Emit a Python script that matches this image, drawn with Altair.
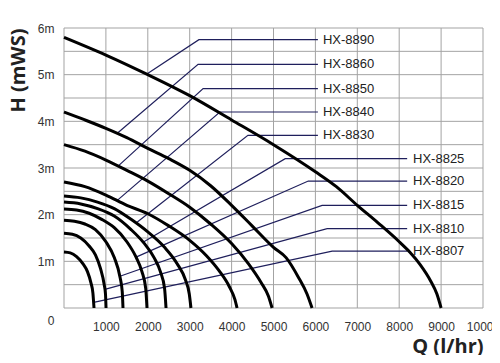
import altair as alt
import pandas as pd

# ---- pump curves (Q in l/hr, H in m) ----
q_8890 = [0, 1000, 2000, 3000, 4000, 5000, 6000, 6500, 7000, 7500, 8000, 8250, 8500, 8750, 8900, 9000]
h_8890 = [5.8, 5.42, 5.0, 4.55, 4.03, 3.5, 2.92, 2.6, 2.2, 1.82, 1.42, 1.2, 0.93, 0.58, 0.3, 0]
q_8860 = [0, 500, 1000, 1500, 2000, 2500, 3000, 3500, 4000, 4500, 5000, 5300, 5600, 5800, 5920]
h_8860 = [4.2, 4.03, 3.85, 3.65, 3.42, 3.2, 2.95, 2.62, 2.2, 1.75, 1.3, 1.08, 0.65, 0.3, 0]
q_8850 = [0, 500, 1000, 1500, 2000, 2500, 3000, 3500, 4000, 4400, 4700, 4880, 4965]
h_8850 = [3.5, 3.36, 3.17, 2.95, 2.72, 2.45, 2.16, 1.8, 1.38, 0.95, 0.55, 0.25, 0]
q_8840 = [0, 500, 1000, 1500, 2000, 2500, 3000, 3400, 3700, 3950, 4080, 4130]
h_8840 = [2.7, 2.6, 2.42, 2.2, 2.02, 1.76, 1.45, 1.12, 0.8, 0.45, 0.18, 0]
q_8830 = [0, 400, 800, 1200, 1600, 2000, 2400, 2700, 2900, 2990, 3030]
h_8830 = [2.4, 2.36, 2.27, 2.13, 1.9, 1.63, 1.3, 0.95, 0.6, 0.3, 0]
q_8825 = [0, 400, 800, 1200, 1600, 1900, 2150, 2300, 2400, 2435]
h_8825 = [2.27, 2.23, 2.13, 1.97, 1.68, 1.4, 1.08, 0.78, 0.42, 0]
q_8820 = [0, 300, 600, 900, 1200, 1500, 1720, 1860, 1950, 1981]
h_8820 = [2.12, 2.1, 2.03, 1.9, 1.72, 1.42, 1.09, 0.78, 0.42, 0]
q_8815 = [0, 250, 500, 750, 1000, 1200, 1340, 1390, 1408]
h_8815 = [1.88, 1.86, 1.8, 1.68, 1.42, 1.08, 0.65, 0.35, 0]
q_8810 = [0, 200, 400, 600, 750, 870, 960, 990, 1003]
h_8810 = [1.6, 1.58, 1.5, 1.33, 1.14, 0.85, 0.5, 0.3, 0]
q_8807 = [0, 150, 300, 450, 560, 640, 690, 716]
h_8807 = [1.2, 1.18, 1.1, 0.95, 0.78, 0.55, 0.32, 0]

models = ["HX-8890", "HX-8860", "HX-8850", "HX-8840", "HX-8830",
          "HX-8825", "HX-8820", "HX-8815", "HX-8810", "HX-8807"]
curve_q = [q_8890, q_8860, q_8850, q_8840, q_8830, q_8825, q_8820, q_8815, q_8810, q_8807]
curve_h = [h_8890, h_8860, h_8850, h_8840, h_8830, h_8825, h_8820, h_8815, h_8810, h_8807]

# ---- leader lines and labels ----
start_q = [2005, 1265, 1290, 1265, 1720, 1886, 1719, 1335, 975, 708]
start_h = [5.03, 3.74, 3.04, 2.30, 1.82, 1.41, 1.09, 0.68, 0.40, 0.12]
knee_q = [3220, 3200, 3320, 3720, 4390, 5280, 5830, 6160, 6280, 6400]
label_h = [5.75, 5.22, 4.7, 4.2, 3.7, 3.2, 2.72, 2.2, 1.7, 1.22]
end_q = [6060, 6060, 6060, 6060, 6060, 8190, 8190, 8190, 8190, 8190]
text_q = [6180, 6180, 6180, 6180, 6180, 8330, 8330, 8330, 8330, 8330]

x_ticks = [0, 1000, 2000, 3000, 4000, 5000, 6000, 7000, 8000, 9000, 10000]
y_ticks = [0, 0.5, 1, 1.5, 2, 2.5, 3, 3.5, 4, 4.5, 5, 5.5, 6]

rows = []
for m, qs, hs in zip(models, curve_q, curve_h):
    for q, h in zip(qs, hs):
        rows.append({"model": m, "Q": q, "H": h})
curves_df = pd.DataFrame(rows)

lrows = []
for i, m in enumerate(models):
    lrows.append({"model": m, "Q": start_q[i], "H": start_h[i], "s": 0})
    lrows.append({"model": m, "Q": knee_q[i], "H": label_h[i], "s": 1})
    lrows.append({"model": m, "Q": end_q[i], "H": label_h[i], "s": 2})
leader_df = pd.DataFrame(lrows)

text_df = pd.DataFrame({"model": models, "Q": text_q, "H": label_h})
vgrid_df = pd.DataFrame({"Q": x_ticks})
hgrid_df = pd.DataFrame({"H": y_ticks})

grid = "#a3a3a3"
xs = alt.Scale(domain=[0, 10000], nice=False)
ys = alt.Scale(domain=[0, 6], nice=False)

x_axis = alt.Axis(
    values=x_ticks, grid=False, domain=False, ticks=False,
    labelExpr="datum.value == 0 ? '' : format(datum.value, 'd')",
    labelFont="Liberation Sans", labelFontSize=12, labelColor="#333333",
    labelPadding=13, labelFlush=False, labelOverlap=False,
    title="Q (l/hr)", titleFont="Open Sans", titleFontSize=20, titleFontWeight="bold",
    titleColor="#222222", titleAnchor="end", titleBaseline="alphabetic", titleY=44,
)
y_axis = alt.Axis(
    values=y_ticks, grid=False, domain=False, ticks=False,
    labelExpr="datum.value == 0 ? '0' : (datum.value % 1 == 0 ? datum.value + 'm' : '')",
    labelFont="Liberation Sans", labelFontSize=12, labelColor="#333333",
    labelPadding=10, labelFlush=False, labelOverlap=False,
    labelOffset={"condition": {"test": "datum.value == 0", "value": 12}, "value": 0},
    title="H (mWS)", titleFont="Open Sans", titleFontSize=20, titleFontWeight="bold",
    titleColor="#222222", titleAnchor="end", titlePadding=9,
)

vgrid = alt.Chart(vgrid_df).mark_rule(color=grid, strokeWidth=1).encode(
    x=alt.X("Q:Q", scale=xs, axis=x_axis),
)
hgrid = alt.Chart(hgrid_df).mark_rule(color=grid, strokeWidth=1).encode(
    y=alt.Y("H:Q", scale=ys, axis=y_axis),
)

leaders = alt.Chart(leader_df).mark_line(color="#1f1f5c", strokeWidth=1.2).encode(
    x=alt.X("Q:Q", scale=xs),
    y=alt.Y("H:Q", scale=ys),
    detail="model:N",
    order="s:Q",
)

labels = alt.Chart(text_df).mark_text(
    align="left", baseline="middle", font="Liberation Sans", fontSize=13, color="#222222"
).encode(x=alt.X("Q:Q", scale=xs), y=alt.Y("H:Q", scale=ys), text="model:N")

curves = alt.Chart(curves_df).mark_line(
    color="black", strokeWidth=3, interpolate="monotone"
).encode(
    x=alt.X("Q:Q", scale=xs),
    y=alt.Y("H:Q", scale=ys),
    detail="model:N",
    order="Q:Q",
)

chart = alt.layer(vgrid, hgrid, leaders, labels, curves).properties(
    width=419, height=280,
    autosize=alt.AutoSizeParams(type="none"),
    padding={"left": 56, "top": 20, "right": 9, "bottom": 47},
).configure_view(stroke=None)

chart.save("out.html", embed_options={"renderer": "svg", "actions": False})
